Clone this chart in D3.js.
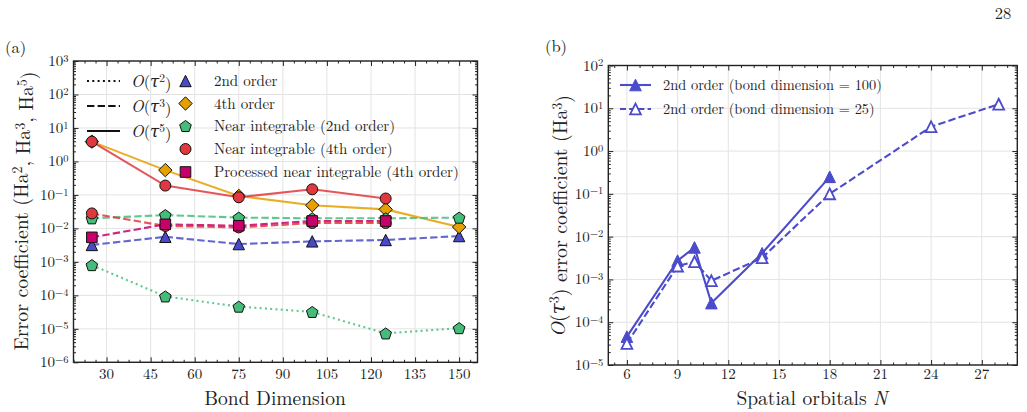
<!DOCTYPE html>
<html><head><meta charset="utf-8">
<script src="https://cdn.jsdelivr.net/npm/d3@7"></script>
</head>
<body style="margin:0;background:#fff"><svg id="c" width="1027" height="412"></svg>
<script>
// ---------- Data ----------
const bondDims = [25, 50, 75, 100, 125, 150];
const bondDims5 = [25, 50, 75, 100, 125];
const secondOrderTau3 = [3.2e-3, 5.6e-3, 3.4e-3, 4.1e-3, 4.5e-3, 5.9e-3];
const fourthOrderTau5 = [3.9, 0.55, 0.093, 0.049, 0.037, 0.011];
const nearInt2Tau2 = [8.0e-4, 9.3e-5, 4.6e-5, 3.2e-5, 7.3e-6, 1.05e-5];
const nearInt2Tau3 = [0.020, 0.025, 0.021, 0.020, 0.020, 0.021];
const nearInt4Tau5 = [3.9, 0.19, 0.085, 0.147, 0.078];
const nearInt4Tau3 = [0.028, 0.0118, 0.0107, 0.0145, 0.0145];
const processedTau3 = [5.4e-3, 0.0132, 0.012, 0.0166, 0.0166];

const orbitals100 = [6, 9, 10, 11, 14, 18];
const bond100 = [4.6e-5, 2.75e-3, 5.6e-3, 2.8e-4, 4.1e-3, 0.25];
const orbitals25 = [6, 9, 10, 11, 14, 18, 24, 28];
const bond25 = [3.2e-5, 2.05e-3, 2.6e-3, 9.3e-4, 3.2e-3, 0.10, 3.7, 12.5];

const leftXTicks = [30, 45, 60, 75, 90, 105, 120, 135, 150];
const leftYExps = [-6, -5, -4, -3, -2, -1, 0, 1, 2, 3];
const rightXTicks = [6, 9, 12, 15, 18, 21, 24, 27];
const rightYExps = [-5, -4, -3, -2, -1, 0, 1, 2];

const lineLabels = ["2", "3", "5"];
const markerLabels = ["2nd order", "4th order", "Near integrable (2nd order)", "Near integrable (4th order)", "Processed near integrable (4th order)"];
const rightLabels = ["2nd order (bond dimension = 100)", "2nd order (bond dimension = 25)"];

// ---------- Styles ----------
const FONT = "Latin Modern Roman";
const GREEK = "Latin Modern Roman, DejaVu Serif";
const C = {blue:"#4a4ac9", orange:"#e6a000", green:"#45bd7a", red:"#e0383e", magenta:"#c8006c", rblue:"#4b4bcc"};
const DASH = "7.4,3.2", DOT = "2,3.3";

const svg = d3.select("#c");

function markerPath(type, r) {
  switch (type) {
    case "tri": return `M0,${-r}L${r},${r}L${-r},${r}Z`;
    case "diamond": return `M0,${-r}L${r},0L0,${r}L${-r},0Z`;
    case "square": return `M${-r},${-r}H${r}V${r}H${-r}Z`;
    case "pent": {
      const pts = d3.range(5).map(k => { const a = -Math.PI/2 + k*2*Math.PI/5; return [r*Math.cos(a), r*Math.sin(a)+r*0.1]; });
      return "M" + pts.map(p => p.join(",")).join("L") + "Z";
    }
    case "circle": return `M${r},0A${r},${r} 0 1,1 ${-r},0A${r},${r} 0 1,1 ${r},0Z`;
  }
}
const MR = {tri:5.7, diamond:6.7, square:5.3, pent:6.1, circle:5.5};

function T(sel) { return sel.append("text").attr("font-family", FONT).attr("fill", "#222"); }
function supSpan(t, s, size) { t.append("tspan").attr("dy", "-0.42em").attr("font-size", size).text(s); }
function downSpan(t, s) { t.append("tspan").attr("dy", "0.42em").text(s); }
function tauSpans(t, exp, supSize) {
  t.append("tspan").attr("font-style", "italic").text("O");
  t.append("tspan").text("(");
  t.append("tspan").attr("font-style", "italic").attr("font-family", GREEK).text("\u03C4");
  supSpan(t, exp, supSize);
  downSpan(t, ")");
}

function frame(g, x, y, xMajor, yMajorVals) {
  const [x0, x1] = x.range(), [y0, y1] = y.range();
  g.append("g").selectAll("line").data(xMajor).join("line")
    .attr("x1", d => x(d)).attr("x2", d => x(d)).attr("y1", y1).attr("y2", y0)
    .attr("stroke", "#e3e3e3").attr("stroke-width", 1);
  g.append("g").selectAll("line").data(yMajorVals).join("line")
    .attr("y1", d => y(d)).attr("y2", d => y(d)).attr("x1", x0).attr("x2", x1)
    .attr("stroke", "#e3e3e3").attr("stroke-width", 1);
}

function axes(g, x, y, xMajor, xMinor, yMajorVals, yMinorVals, yExps, xOff) {
  const [x0, x1] = x.range(), [y0, y1] = y.range();
  const mk = (axisFn, scale, vals, size, tr) => {
    const a = axisFn(scale).tickValues(vals).tickSizeInner(-size).tickSizeOuter(0).tickFormat("");
    const gg = g.append("g").attr("transform", tr).call(a);
    gg.select(".domain").remove();
    gg.selectAll("line").attr("stroke", "#222").attr("stroke-width", 1);
    return gg;
  };
  mk(d3.axisBottom, x, xMajor, 5, `translate(0,${y0})`);
  mk(d3.axisBottom, x, xMinor, 2.5, `translate(0,${y0})`);
  mk(d3.axisTop, x, xMajor, 5, `translate(0,${y1})`);
  mk(d3.axisTop, x, xMinor, 2.5, `translate(0,${y1})`);
  mk(d3.axisLeft, y, yMajorVals, 5, `translate(${x0},0)`);
  mk(d3.axisLeft, y, yMinorVals, 2.5, `translate(${x0},0)`);
  mk(d3.axisRight, y, yMajorVals, 5, `translate(${x1},0)`);
  mk(d3.axisRight, y, yMinorVals, 2.5, `translate(${x1},0)`);
  g.append("rect").attr("x", x0).attr("y", y1).attr("width", x1 - x0).attr("height", y0 - y1)
    .attr("fill", "none").attr("stroke", "#222").attr("stroke-width", 1.4);
  const xl = g.append("g");
  xMajor.forEach(d => {
    T(xl).attr("x", x(d)).attr("y", y0 + xOff).attr("text-anchor", "middle").attr("font-size", 15).text(d);
  });
  const yl = g.append("g");
  yExps.forEach(d => {
    const t = T(yl).attr("x", x0 - 5).attr("y", y(Math.pow(10, d)) + 5).attr("text-anchor", "end").attr("font-size", 15);
    t.append("tspan").text("10");
    supSpan(t, d < 0 ? "\u2212" + (-d) : String(d), 10.5);
  });
}

function logMinor(e0, e1) {
  const out = [];
  for (let e = e0; e < e1; e++) for (let k = 2; k <= 9; k++) out.push(k * Math.pow(10, e));
  return out;
}

// ================= Left panel =================
const xL = d3.scaleLinear().domain([18.75, 156.25]).range([73.5, 477.5]);
const yL = d3.scaleLog().domain([1e-6, 1e3]).range([362.3, 61]);
const gL = svg.append("g");
const xLMinor = d3.range(18.75, 156.3, 3.75).filter(v => Math.abs(v / 15 - Math.round(v / 15)) > 1e-6);
const yLMajor = leftYExps.map(e => Math.pow(10, e));
frame(gL, xL, yL, leftXTicks, yLMajor);

const seriesL = [
  {xs: bondDims, ys: secondOrderTau3, color: C.blue, dash: DASH, m: "tri"},
  {xs: bondDims, ys: fourthOrderTau5, color: C.orange, dash: null, m: "diamond"},
  {xs: bondDims, ys: nearInt2Tau2, color: C.green, dash: DOT, m: "pent"},
  {xs: bondDims, ys: nearInt2Tau3, color: C.green, dash: DASH, m: "pent"},
  {xs: bondDims5, ys: nearInt4Tau5, color: C.red, dash: null, m: "circle"},
  {xs: bondDims5, ys: nearInt4Tau3, color: C.red, dash: DASH, m: "circle"},
  {xs: bondDims5, ys: processedTau3, color: C.magenta, dash: DASH, m: "square"}
];
const lineL = (xs, ys) => d3.line().x((d, i) => xL(xs[i])).y(d => yL(d))(ys);
seriesL.forEach(s => {
  const g = gL.append("g");
  g.append("path").attr("d", lineL(s.xs, s.ys)).attr("fill", "none").attr("stroke", s.color)
    .attr("stroke-width", 2.1).attr("stroke-opacity", 0.85).attr("stroke-dasharray", s.dash);
  g.selectAll("path.m").data(s.ys).join("path").attr("class", "m")
    .attr("transform", (d, i) => `translate(${xL(s.xs[i])},${yL(d)})`)
    .attr("d", markerPath(s.m, MR[s.m])).attr("fill", s.color).attr("stroke", "#111").attr("stroke-width", 1);
});
axes(gL, xL, yL, leftXTicks, xLMinor, yLMajor, logMinor(-6, 3), leftYExps, 16.8);

// left legend
const legLines = [DOT, DASH, null];
const legLY = [81, 106, 131];
legLines.forEach((d, i) => {
  gL.append("line").attr("x1", 87).attr("x2", 120).attr("y1", legLY[i]).attr("y2", legLY[i])
    .attr("stroke", "#111").attr("stroke-width", 2.1).attr("stroke-dasharray", d);
  const t = T(gL).attr("x", 131).attr("y", legLY[i] + 5.5).attr("font-size", 16.5);
  tauSpans(t, lineLabels[i], 11.5);
});
const legMY = [81, 103.5, 126, 149, 172];
const legM = [["tri", C.blue], ["diamond", C.orange], ["pent", C.green], ["circle", C.red], ["square", C.magenta]];
legM.forEach((d, i) => {
  gL.append("path").attr("transform", `translate(185.5,${legMY[i]})`).attr("d", markerPath(d[0], MR[d[0]]))
    .attr("fill", d[1]).attr("stroke", "#111").attr("stroke-width", 1);
  T(gL).attr("x", 214).attr("y", legMY[i] + 5).attr("font-size", 15).text(markerLabels[i]);
});

// left labels
T(gL).attr("x", 275).attr("y", 404.5).attr("text-anchor", "middle").attr("font-size", 19.5).text("Bond Dimension");
{
  const t = T(gL).attr("transform", "translate(28,211) rotate(-90)").attr("text-anchor", "middle").attr("font-size", 19.7);
  t.append("tspan").text("Error coefficient (Ha");
  supSpan(t, "2", 14); downSpan(t, ", Ha");
  supSpan(t, "3", 14); downSpan(t, ", Ha");
  supSpan(t, "5", 14); downSpan(t, ")");
}
T(svg).attr("x", 5).attr("y", 53).attr("font-size", 16.5).text("(a)");

// ================= Right panel =================
const xR = d3.scaleLinear().domain([4.9, 29.1]).range([608.3, 1017.3]);
const yR = d3.scaleLog().domain([1e-5, 1e2]).range([365, 65.5]);
const gR = svg.append("g");
const xRMinor = d3.range(4.5, 29.2, 0.75).filter(v => v >= 4.9 && Math.abs(v / 3 - Math.round(v / 3)) > 1e-6);
const yRMajor = rightYExps.map(e => Math.pow(10, e));
frame(gR, xR, yR, rightXTicks, yRMajor);
const lineR = (xs, ys) => d3.line().x((d, i) => xR(xs[i])).y(d => yR(d))(ys);
gR.append("path").attr("d", lineR(orbitals25, bond25)).attr("fill", "none").attr("stroke", C.rblue)
  .attr("stroke-width", 2.1).attr("stroke-dasharray", DASH);
gR.append("path").attr("d", lineR(orbitals100, bond100)).attr("fill", "none").attr("stroke", C.rblue)
  .attr("stroke-width", 2.1);
gR.selectAll("path.f").data(bond100).join("path").attr("class", "f")
  .attr("transform", (d, i) => `translate(${xR(orbitals100[i])},${yR(d)})`)
  .attr("d", markerPath("tri", 5.8)).attr("fill", C.rblue).attr("stroke", C.rblue).attr("stroke-width", 1);
gR.selectAll("path.o").data(bond25).join("path").attr("class", "o")
  .attr("transform", (d, i) => `translate(${xR(orbitals25[i])},${yR(d)})`)
  .attr("d", markerPath("tri", 5.4)).attr("fill", "#fff").attr("stroke", C.rblue).attr("stroke-width", 1.8);
axes(gR, xR, yR, rightXTicks, xRMinor, yRMajor, logMinor(-5, 2), rightYExps, 14);

// right legend
const legRY = [85, 109];
[null, DASH].forEach((d, i) => {
  gR.append("line").attr("x1", 620).attr("x2", 651).attr("y1", legRY[i]).attr("y2", legRY[i])
    .attr("stroke", C.rblue).attr("stroke-width", 2.1).attr("stroke-dasharray", d ? "6,3.2" : null);
  gR.append("path").attr("transform", `translate(635.5,${legRY[i]})`)
    .attr("d", markerPath("tri", i === 0 ? 5.8 : 5.4))
    .attr("fill", i === 0 ? C.rblue : "#fff").attr("stroke", C.rblue).attr("stroke-width", i === 0 ? 1 : 1.8);
  T(gR).attr("x", 663).attr("y", legRY[i] + 5).attr("font-size", 14.4).text(rightLabels[i]);
});

{
  const t = T(gR).attr("x", 812).attr("y", 404.5).attr("text-anchor", "middle").attr("font-size", 19.5);
  t.append("tspan").text("Spatial orbitals ");
  t.append("tspan").attr("font-style", "italic").text("N");
}
{
  const t = T(gR).attr("transform", "translate(565,216) rotate(-90)").attr("text-anchor", "middle").attr("font-size", 19.7);
  tauSpans(t, "3", 14);
  t.append("tspan").text(" error coefficient (Ha");
  supSpan(t, "3", 14); downSpan(t, ")");
}
T(svg).attr("x", 545).attr("y", 52).attr("font-size", 16.5).text("(b)");
T(svg).attr("x", 1003).attr("y", 19).attr("text-anchor", "middle").attr("font-size", 16.5).text("28");
</script></body></html>
